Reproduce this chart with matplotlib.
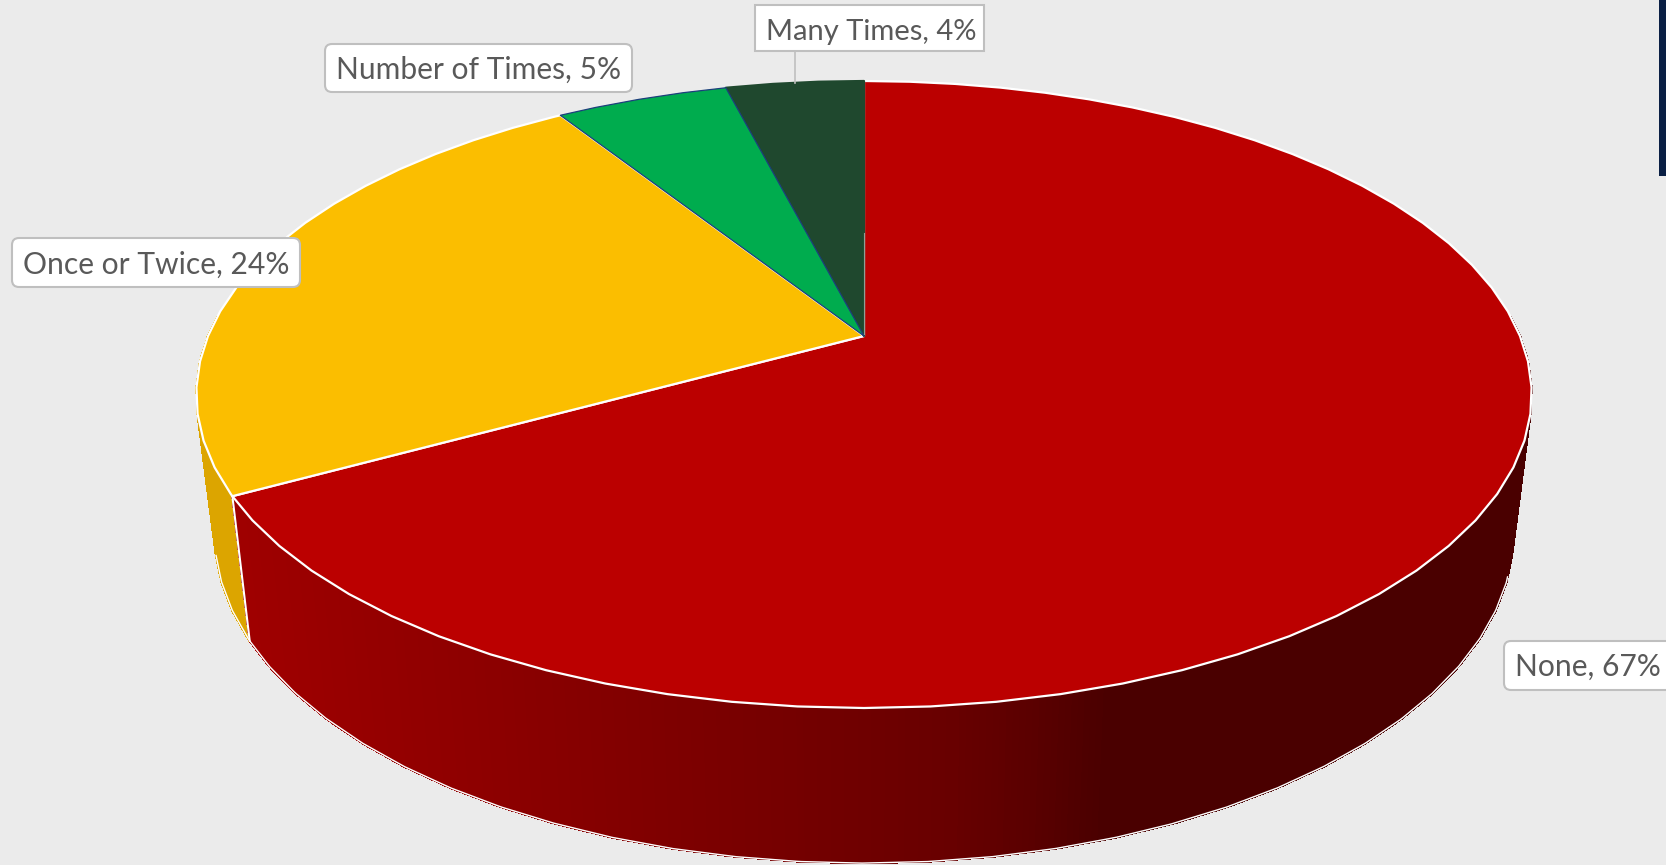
import numpy as np
import matplotlib
matplotlib.use('Agg')
import matplotlib.pyplot as plt
from matplotlib.patches import Polygon, FancyBboxPatch, Rectangle

###########                 Data                 ###########
#----------------------------------------------------------#
categories = ['None', 'Once or Twice', 'Number of Times', 'Many Times']
shares = [67, 24, 5, 4]
top_colors = ['#bb0000', '#fbbe00', '#00ac4e', '#1f482e']
side_colors = ['#a00000', '#dca500']
edge_colors = ['white', 'white', '#1c3f7c', '#1f482e']
edge_widths = [1.6, 1.6, 0.9, 1.6]

# shade of the red side left to right
shade_x = [240, 500, 800, 950, 1030, 1100, 1200, 1560]
shade_red = [160, 140, 116, 104, 90, 74, 74, 74]

# label boxes: left, top, right, bottom
label_boxes = [(1504, 641, 1690, 690), (12, 238, 300, 287),
               (325, 44, 632, 92), (755, 5, 984, 51)]
label_rounded = [True, True, True, False]
label_sizes = [21.6, 21.6, 21.6, 21]
label_shift = [1, 2, 2, 4]

###########              Projection              ###########
#----------------------------------------------------------#
k = 0.1866
apex_x = 864
edges = np.cumsum([0] + shares) / sum(shares)
# the original circle is a polygon, about 76 flat pieces
facets = np.union1d(np.linspace(0, 1, 77), edges)


def project(frac, sx, sy, cy):
    # frac runs clockwise from twelve o'clock, circle seen in perspective
    a = 2 * np.pi * np.asarray(frac)
    x, y = np.sin(a), np.cos(a)
    d = 1 + k * y
    return apex_x + sx * x / d, cy - sy * y / d


def top(frac):
    xs, ys = project(facets, 656, 302.6, 336)
    return np.interp(frac, facets, xs), np.interp(frac, facets, ys)


def bottom(frac):
    xs, ys = project(facets, 638, 317.6, 472.7)
    return np.interp(frac, facets, xs), np.interp(frac, facets, ys)


###########                Figure                ###########
#----------------------------------------------------------#
fig = plt.figure(figsize=(16.66, 8.65), dpi=100, facecolor='#ebebeb')
ax = fig.add_axes([0, 0, 1, 1])
ax.set_xlim(0, 1666)
ax.set_ylim(865, 0)
ax.axis('off')

ax.add_patch(Rectangle((1659, 0), 10, 176, fc='#0a1f44', ec='none'))

###########                Sides                 ###########
#----------------------------------------------------------#
# only the front of the drum shows, so the back half is not drawn
side_from = [0.24, edges[1]]
side_to = [edges[1], 0.76]
for i in [1, 0]:
    fr = np.linspace(side_from[i], side_to[i], 320)
    for a, b in zip(fr[:-1], fr[1:]):
        x1, y1 = top(a)
        x2, y2 = top(b)
        x3, y3 = bottom(b)
        x4, y4 = bottom(a)
        col = side_colors[i]
        if i == 0:
            red = np.interp((x3 + x4) / 2, shade_x, shade_red)
            col = (red / 255, 0, 0)
        ax.add_patch(Polygon([(x1, y1), (x2, y2), (x3, y3), (x4, y4)],
                             fc=col, ec=col, lw=1, antialiased=False))

# white rims along the bottom edge and the seam between red and yellow
fr = np.linspace(0.30, edges[2] - 0.2, 400)
bx, by = bottom(fr)
ax.plot(bx, by, color='white', lw=1)
sx0, sy0 = top(edges[1])
sx1, sy1 = bottom(edges[1])
ax.plot([sx0, sx1], [sy0, sy1], color='white', lw=1.5)

###########                 Top                  ###########
#----------------------------------------------------------#
for i in range(len(shares)):
    fr = facets[(facets >= edges[i]) & (facets <= edges[i + 1])]
    x, y = top(fr)
    pts = [(apex_x, 336)] + list(zip(x, y))
    ax.add_patch(Polygon(pts, closed=True, fc=top_colors[i], ec=edge_colors[i],
                         lw=edge_widths[i], joinstyle='round', zorder=3 + (i == 2)))

# faint seam left in the original next to the apex
ax.plot([864, 864], [233, 334], color='#8f9f95', lw=0.8, zorder=5)

###########                Labels                ###########
#----------------------------------------------------------#
ax.plot([795, 795], [51, 83], color='#bfbfbf', lw=1.2, zorder=6)

for n, name in enumerate(categories):
    l, t, r, b = label_boxes[n]
    if label_rounded[n]:
        ax.add_patch(FancyBboxPatch((l + 6, t + 6), r - l - 12, b - t - 12,
                                    boxstyle='round,pad=6,rounding_size=7',
                                    fc='white', ec='#bfbfbf', lw=1.5, zorder=7))
    else:
        ax.add_patch(Rectangle((l, t), r - l, b - t, fc='white', ec='#bfbfbf', lw=1.5, zorder=7))
    ax.text(l + 11, (t + b) / 2 + label_shift[n], f'{name}, {shares[n]}%', family='Lato',
            fontsize=label_sizes[n], color='#595959', ha='left', va='center', zorder=8)

fig.savefig('out.png', dpi=100, facecolor=fig.get_facecolor())
